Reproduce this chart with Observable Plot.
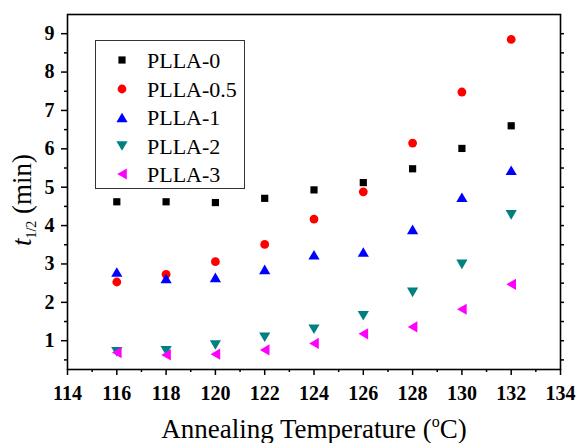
<!DOCTYPE html>
<html>
<head>
<meta charset="utf-8">
<script src="https://cdn.jsdelivr.net/npm/d3@7"></script>
<script src="https://cdn.jsdelivr.net/npm/@observablehq/plot@0.6"></script>
<style>
  html, body { margin: 0; padding: 0; background: #fff; }
  svg { display: block; }
  #chart svg, #chart svg text, #chart svg tspan { font-family: "Liberation Serif", "Times New Roman", serif !important; }
</style>
</head>
<body>
<div id="chart"></div>
<script>
// ---- data ----
const temps = [116, 118, 120, 122, 124, 126, 128, 130, 132];
const seriesNames = ["PLLA-0", "PLLA-0.5", "PLLA-1", "PLLA-2", "PLLA-3"];
const plla0  = [4.62, 4.62, 4.60, 4.71, 4.93, 5.12, 5.48, 6.01, 6.60];
const plla05 = [2.53, 2.73, 3.06, 3.51, 4.17, 4.88, 6.15, 7.48, 8.85];
const plla1  = [2.79, 2.62, 2.65, 2.86, 3.24, 3.31, 3.90, 4.74, 5.44];
const plla2  = [0.71, 0.74, 0.89, 1.09, 1.30, 1.65, 2.26, 2.99, 4.28];
const plla3  = [0.69, 0.63, 0.65, 0.76, 0.93, 1.18, 1.36, 1.82, 2.47];
const seriesColors = ["#000000", "#ff0000", "#0000ff", "#008080", "#ff00ff"];
const xTicks = [114, 116, 118, 120, 122, 124, 126, 128, 130, 132, 134];
const xMinor = [115, 117, 119, 121, 123, 125, 127, 129, 131, 133];
const yTicks = [1, 2, 3, 4, 5, 6, 7, 8, 9];
const yMinor = [0.5, 1.5, 2.5, 3.5, 4.5, 5.5, 6.5, 7.5, 8.5];
const yRight = [0.5, 1, 1.5, 2, 2.5, 3, 3.5, 4, 4.5, 5, 5.5, 6, 6.5, 7, 7.5, 8, 8.5, 9];

// ---- custom symbols (geometry scaled from r = 4.5) ----
const unit = size => Math.sqrt(size / Math.PI) / 4.5;
const symSquare = { draw(c, size) { const u = unit(size), h = 3.6 * u; c.moveTo(-h, -h); c.lineTo(h, -h); c.lineTo(h, h); c.lineTo(-h, h); c.closePath(); } };
const symCircle = { draw(c, size) { const u = unit(size), r = 4.4 * u; c.moveTo(r, 0); c.arc(0, 0, r, 0, 2 * Math.PI); c.closePath(); } };
const symUp = { draw(c, size) { const u = unit(size); c.moveTo(0, -4.8 * u); c.lineTo(5.6 * u, 4.8 * u); c.lineTo(-5.6 * u, 4.8 * u); c.closePath(); } };
const symDown = { draw(c, size) { const u = unit(size); c.moveTo(0, 4.8 * u); c.lineTo(5.6 * u, -4.8 * u); c.lineTo(-5.6 * u, -4.8 * u); c.closePath(); } };
const symLeft = { draw(c, size) { const u = unit(size); c.moveTo(-4.8 * u, 0); c.lineTo(4.8 * u, -5.6 * u); c.lineTo(4.8 * u, 5.6 * u); c.closePath(); } };
const symbols = [symSquare, symCircle, symUp, symDown, symLeft];
const allValues = [plla0, plla05, plla1, plla2, plla3];

const serif = "Liberation Serif, Times New Roman, serif";

const dotMarks = allValues.map((vals, k) =>
  Plot.dot(temps.map((t, i) => ({ t, v: vals[i], s: seriesNames[k] })), {
    x: "t", y: "v", r: 4.5, symbol: symbols[k], fill: seriesColors[k], stroke: "none"
  })
);

const plot = Plot.plot({
  width: 579, height: 443,
  marginLeft: 67, marginRight: 19, marginTop: 14, marginBottom: 74,
  x: { domain: [114, 134] },
  y: { domain: [0.25, 9.5] },
  style: { fontFamily: serif, fontSize: "20px", color: "#000", background: "#fff", overflow: "visible" },
  marks: [
    Plot.axisX({ ticks: xTicks, tickSize: 6, tickPadding: 10, label: null, strokeWidth: 1.5, fontSize: 20, fontWeight: "bold", tickFormat: d => String(d) }),
    Plot.axisX({ ticks: xMinor, tickSize: 3, label: null, strokeWidth: 1.5, tickFormat: () => "" }),
    Plot.axisY({ ticks: yTicks, tickSize: 6, tickPadding: 7, label: null, strokeWidth: 1.5, fontSize: 20, fontWeight: "bold", tickFormat: d => String(d) }),
    Plot.axisY({ ticks: yMinor, tickSize: 3, label: null, strokeWidth: 1.5, tickFormat: () => "" }),
    Plot.axisY({ anchor: "right", ticks: yRight, tickSize: 3, label: null, strokeWidth: 1.5, tickFormat: () => "" }),
    Plot.frame({ stroke: "#000", strokeWidth: 1.6 }),
    ...dotMarks
  ]
});

document.getElementById("chart").appendChild(plot);
const svg = d3.select(plot);

// bold serif tick labels
svg.selectAll("text").filter(function () { return /^\d+$/.test(this.textContent.trim()); })
  .attr("font-weight", "bold").style("font-weight", "bold")
  .attr("font-family", serif).style("font-size", "20px");

// ---- legend ----
const lg = svg.append("g").attr("font-family", serif).attr("text-anchor", "start");
lg.append("rect").attr("x", 95.5).attr("y", 40.5).attr("width", 149).attr("height", 148)
  .attr("fill", "#fff").attr("stroke", "#333").attr("stroke-width", 1);
const rowY = [60, 89, 117.5, 146, 174];
seriesNames.forEach((name, k) => {
  lg.append("path")
    .attr("transform", `translate(122,${rowY[k]})`)
    .attr("d", d3.symbol(symbols[k], 4.5 * 4.5 * Math.PI)())
    .attr("fill", seriesColors[k]);
  lg.append("text").attr("x", 147).attr("y", rowY[k] + 7.5).attr("text-anchor", "start")
    .attr("font-size", 22).attr("fill", "#000").text(name);
});

// ---- x title ----
const xt = svg.append("text").attr("x", 314).attr("y", 438).attr("text-anchor", "middle")
  .attr("font-family", serif).attr("font-size", 27).attr("fill", "#000");
xt.append("tspan").text("Annealing Temperature (");
xt.append("tspan").attr("font-size", 16).attr("dy", -11).text("o");
xt.append("tspan").attr("dy", 11).text("C)");

// ---- y title ----
const yt = svg.append("text").attr("transform", "translate(31,200) rotate(-90)").attr("text-anchor", "middle")
  .attr("font-family", serif).attr("font-size", 27).attr("fill", "#000");
yt.append("tspan").attr("font-style", "italic").text("t");
yt.append("tspan").attr("font-size", 14).attr("dy", 5).text("1/2");
yt.append("tspan").attr("dy", -5).text(" (min)");
</script>
</body>
</html>
